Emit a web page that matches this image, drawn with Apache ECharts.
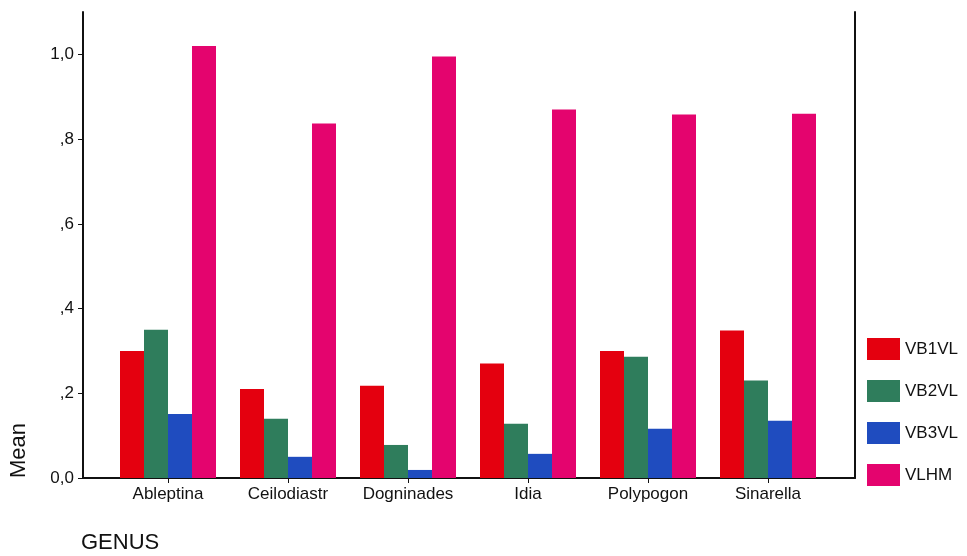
<!DOCTYPE html>
<html><head><meta charset="utf-8">
<script src="https://cdn.jsdelivr.net/npm/echarts@6/dist/echarts.min.js"></script>
<style>html,body{margin:0;padding:0;background:#fff}#c{width:967px;height:556px}</style>
</head><body><div id="c"></div>
<script>
const categories = ['Ableptina','Ceilodiastr','Dogninades','Idia','Polypogon','Sinarella'];
const VB1VL = [0.300, 0.210, 0.218, 0.270, 0.300, 0.348];
const VB2VL = [0.350, 0.140, 0.078, 0.128, 0.286, 0.230];
const VB3VL = [0.151, 0.050, 0.019, 0.057, 0.116, 0.135];
const VLHM  = [1.020, 0.837, 0.995, 0.870, 0.858, 0.860];
const seriesNames = ['VB1VL','VB2VL','VB3VL','VLHM'];
const seriesData = [VB1VL, VB2VL, VB3VL, VLHM];
const colors = ['#e4000f','#2f7d5c','#1f4cbf','#e4046e'];
const yTicks = [0, 0.2, 0.4, 0.6, 0.8, 1.0];
const yTickLabels = ['0,0', ',2', ',4', ',6', ',8', '1,0'];

const font = 'Liberation Sans, Arial, sans-serif';
const chart = echarts.init(document.getElementById('c'));
chart.setOption({
  animation: false,
  backgroundColor: '#fff',
  grid: [
    {left: 108, right: 139, top: 12, bottom: 78},
    {left: 83, right: 112, top: 12, bottom: 78}
  ],
  legend: {
    orient: 'vertical', left: 862, top: 333,
    itemWidth: 33, itemHeight: 22, itemGap: 20,
    textStyle: {fontFamily: font, fontSize: 17, color: '#111'},
    data: seriesNames, icon: 'rect'
  },
  xAxis: [
    {type: 'category', gridIndex: 0, data: categories,
     axisLine: {show: false},
     axisTick: {show: true, alignWithLabel: true, length: 5, lineStyle: {color: '#111'}},
     axisLabel: {fontFamily: font, fontSize: 17, color: '#111', margin: 8}},
    {type: 'value', gridIndex: 1, min: 0, max: 1,
     axisLine: {show: true, onZero: false, lineStyle: {color: '#111', width: 2}},
     axisTick: {show: false}, axisLabel: {show: false}, splitLine: {show: false}}
  ],
  yAxis: [
    {type: 'value', gridIndex: 0, min: 0, max: 1.1, show: false},
    {type: 'value', gridIndex: 1, min: 0, max: 1.1, position: 'left',
     axisLine: {show: true, lineStyle: {color: '#111', width: 2}},
     axisTick: {show: true, inside: false, length: 5, customValues: yTicks, lineStyle: {color: '#111'}},
     axisLabel: {fontFamily: font, fontSize: 17, color: '#111', margin: 9, customValues: yTicks,
       formatter: v => { const i = yTicks.findIndex(t => Math.abs(t - v) < 1e-6); return i >= 0 ? yTickLabels[i] : ''; }},
     splitLine: {show: false}},
    {type: 'value', gridIndex: 1, min: 0, max: 1.1, position: 'right',
     axisLine: {show: true, lineStyle: {color: '#111', width: 2}},
     axisTick: {show: false}, axisLabel: {show: false}, splitLine: {show: false}}
  ],
  graphic: [
    {type: 'text', left: 81, top: 532, style: {text: 'GENUS', fontFamily: font, fontSize: 22, fill: '#111'}},
    {type: 'text', x: 8, y: 478, rotation: Math.PI / 2, style: {text: 'Mean', fontFamily: font, fontSize: 22, fill: '#111'}}
  ],
  series: seriesNames.map((n, i) => ({
    name: n, type: 'bar', xAxisIndex: 0, yAxisIndex: 0,
    data: seriesData[i], barWidth: 24, barGap: '0%',
    itemStyle: {color: colors[i]}
  }))
});
</script></body></html>
